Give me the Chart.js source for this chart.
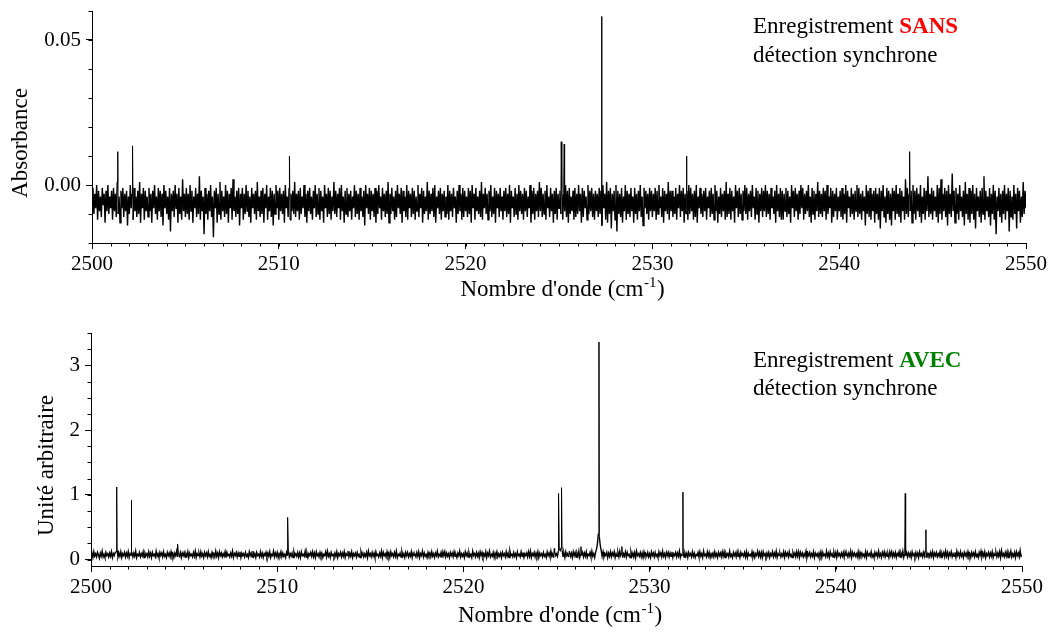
<!DOCTYPE html>
<html><head><meta charset="utf-8">
<script src="https://cdn.jsdelivr.net/npm/chart.js@4"></script>
<style>
html,body{margin:0;padding:0;background:#fff;width:1052px;height:633px;overflow:hidden}
.box{position:absolute;left:0;width:1052px}
#b1{top:0;height:310px}
#b2{top:310px;height:323px}
</style></head><body>
<div class="box" id="b1"><canvas id="c1" width="1052" height="310"></canvas></div>
<div class="box" id="b2"><canvas id="c2" width="1052" height="323"></canvas></div>
<script>
// ---------- DATA ----------
const X_START = 2500;
const X_STEP = 0.05;
const xTicks = [2500, 2510, 2520, 2530, 2540, 2550];

// top panel : absorbance noise in units of 0.001 (one value every 0.05 cm-1, one row per cm-1)
const topNoise = [
-5,-1,-10,-3,-8,0,-12,-2,-9,-4,-11,-1,-7,-3,-13,-2,-9,0,-10,-4,
-8,-2,-12,-1,-9,-3,-11,1,-10,-4,-13,-2,-8,-1,-11,-3,-9,-2,-14,-4,
-10,0,-8,-3,-12,-1,-9,-4,-11,-2,-10,1,-13,-3,-8,-1,-12,-2,-9,-4,
-11,-1,-9,-3,-13,-2,-8,0,-10,-4,-12,-1,-9,-2,-11,-3,-14,0,-8,-2,
-10,-4,-12,-1,-16,-3,-9,-2,-11,0,-8,-3,-13,-1,-10,-4,-12,2,-9,-3,
-11,-1,-10,-3,-12,0,-9,-2,-13,-4,-8,-1,-11,-3,-10,3,-12,-2,-9,-4,
-17,-1,-10,-3,-12,-2,-9,0,-11,-4,-18,-2,-8,-1,-13,-3,-10,1,-12,-2,
-9,-4,-11,0,-10,-2,-13,-3,-8,-1,-12,2,-9,-4,-11,-2,-10,-1,-14,-3,
-8,-1,-12,-3,-10,0,-9,-2,-11,-4,-13,-1,-8,-3,-10,-2,-12,1,-9,-4,
-11,-2,-10,-1,-13,-3,-8,0,-12,-4,-9,-1,-11,-2,-14,-3,-10,0,-8,-2,
-12,-1,-9,-3,-10,-2,-13,0,-8,-4,-11,-1,-12,-3,-9,-2,-10,1,-11,-3,
-9,-2,-12,-1,-10,-4,-8,0,-11,-3,-13,-2,-9,-1,-10,-4,-12,-2,-8,0,
-11,-3,-10,-1,-12,-2,-9,-4,-13,0,-8,-3,-11,-1,-10,-2,-12,-4,-9,1,
-10,-2,-11,-3,-8,-1,-12,0,-9,-4,-13,-2,-10,-1,-11,-3,-9,-2,-12,-4,
-8,0,-11,-2,-10,-3,-12,-1,-9,-4,-11,-2,-14,0,-8,-3,-10,-1,-12,-2,
-9,-3,-11,-1,-13,-2,-10,0,-8,-4,-12,-1,-9,-3,-11,-2,-10,1,-13,-3,
-10,-1,-9,-4,-12,-2,-11,0,-8,-3,-10,-1,-13,-2,-9,-4,-11,0,-12,-2,
-8,-3,-11,-1,-10,-2,-12,-4,-9,0,-11,-3,-8,-1,-13,-2,-10,-4,-9,1,
-12,-2,-10,-3,-9,-1,-11,0,-13,-4,-8,-2,-10,-1,-12,-3,-9,-2,-11,-4,
-10,0,-12,-2,-9,-3,-11,-1,-8,-4,-13,-2,-10,0,-9,-3,-12,-1,-11,-2,
-9,-4,-11,-1,-10,-2,-13,0,-8,-3,-12,-1,-9,-4,-10,-2,-11,1,-12,-3,
-8,-1,-10,-3,-12,-2,-9,0,-11,-4,-10,-1,-13,-2,-8,-3,-11,-1,-9,-4,
-12,-2,-9,-1,-11,-3,-10,0,-13,-2,-8,-4,-11,-1,-10,-3,-12,0,-9,-2,
-10,-3,-12,-1,-9,-2,-11,-4,-8,0,-13,-2,-10,-1,-12,-3,-9,-2,-11,1,
-9,-1,-11,-3,-10,-2,-12,0,-8,-4,-11,-1,-9,-3,-13,-2,-10,-1,-12,-3,
-8,-2,-10,-1,-12,-3,-9,0,-11,-2,-13,-1,-10,-4,-9,-2,-12,-1,-11,-3,
-10,0,-9,-3,-13,-1,-11,-2,-8,-4,-12,0,-10,-2,-9,-1,-11,-3,-12,-2,
-9,-3,-11,-1,-10,-2,-14,0,-8,-3,-12,1,-13,-2,-10,-1,-15,-3,-9,-2,
-12,0,-16,-2,-10,-3,-11,-1,-13,-4,-9,0,-12,-2,-10,-3,-11,-1,-9,-4,
-13,-1,-10,-3,-12,-2,-9,0,-11,-4,-14,-1,-8,-2,-10,-3,-12,-1,-9,-2,
-11,-3,-9,-1,-12,-2,-10,0,-8,-4,-11,-1,-13,-2,-9,-3,-10,1,-12,-2,
-9,-2,-11,-4,-10,-1,-12,-3,-8,0,-11,-2,-9,-1,-13,-3,-10,-2,-12,0,
-10,-1,-9,-3,-12,-2,-11,0,-13,-4,-8,-1,-10,-3,-11,-2,-9,-1,-12,-4,
-8,-2,-11,-1,-10,-3,-12,0,-9,-2,-13,-4,-10,-1,-11,-3,-9,-2,-12,1,
-11,-3,-10,-1,-12,-2,-9,-4,-13,0,-8,-2,-11,-1,-10,-3,-12,-2,-9,0,
-10,-1,-12,-3,-9,-2,-11,0,-8,-4,-12,-1,-10,-2,-13,-3,-9,-1,-11,-2,
-9,0,-11,-2,-10,-3,-12,-1,-8,-4,-10,-2,-13,0,-9,-3,-11,-1,-12,-2,
-12,-3,-9,-1,-11,-2,-10,-4,-13,0,-8,-2,-11,-1,-9,-3,-12,-2,-10,0,
-8,-1,-12,-3,-10,-2,-9,0,-11,-4,-13,-1,-10,-2,-12,-3,-9,1,-11,-2,
-10,-3,-11,-1,-9,-2,-12,0,-10,-4,-8,-1,-13,-2,-11,-3,-9,-1,-12,-4,
-9,-2,-11,-1,-12,-3,-10,0,-13,-2,-8,-4,-11,-1,-10,-3,-12,-2,-9,0,
-11,-1,-10,-3,-12,-2,-9,-4,-14,0,-10,-2,-11,-1,-12,-3,-9,-2,-13,-1,
-10,-3,-12,-1,-15,-2,-9,0,-11,-4,-13,-1,-10,-2,-12,-3,-14,-1,-9,-2,
-12,0,-10,-3,-11,-1,-13,-2,-9,-4,-12,2,-10,-1,-11,-3,-9,-2,-13,0,
-10,-2,-12,-1,-9,-3,-11,0,-13,-4,-10,-1,-12,-2,-9,3,-11,-3,-10,-1,
-12,-2,-9,-4,-11,0,-13,-1,-10,2,-12,-3,-9,-1,-11,-2,-14,0,-10,-3,
-11,4,-9,-2,-13,-1,-10,-3,-12,0,-9,-4,-11,-2,-14,1,-10,-3,-12,-1,
-13,-2,-10,0,-12,-3,-15,-1,-9,-4,-11,-2,-13,-1,-10,3,-12,-2,-9,-4,
-11,-1,-14,-3,-10,0,-12,-2,-17,-4,-9,-1,-11,-3,-13,-2,-10,0,-12,-3,
-9,-1,-16,-2,-11,-4,-12,0,-10,-3,-15,-1,-9,-2,-13,-4,-11,1,-10,-2,
-8
];
const topPeakX = [2501.38, 2502.17, 2510.57, 2525.12, 2525.28, 2527.28, 2531.82, 2543.77];
const topPeakY = [0.0115, 0.0135, 0.0100, 0.0149, 0.0141, 0.0581, 0.0100, 0.0115];
const topYTicks = [0.00, 0.05];

// bottom panel : arbitrary-unit noise in units of 0.01 (one value every 0.05 cm-1, one row per cm-1)
const botNoise = [
6,10,3,12,5,9,4,11,7,2,10,5,13,4,8,3,11,6,9,4,
10,5,12,3,9,6,11,12,14,4,10,5,12,3,9,6,11,4,10,5,
12,3,9,6,11,4,10,5,13,3,8,6,11,4,9,5,12,3,10,6,
9,4,12,5,10,3,11,6,8,4,13,5,9,3,11,6,10,4,12,5,
8,3,11,6,10,4,12,5,9,3,10,6,13,4,8,5,11,3,10,6,
11,4,9,5,12,3,10,6,8,4,11,5,13,3,9,6,10,4,12,5,
9,3,11,6,10,4,12,5,8,3,11,6,9,4,13,5,10,3,12,6,
10,4,9,5,12,3,11,6,8,4,10,5,13,3,9,6,11,4,10,5,
12,3,10,6,9,4,11,5,8,3,12,6,10,4,13,5,9,3,11,6,
8,4,12,5,10,3,9,6,11,4,10,5,12,3,8,6,13,4,10,5,
11,3,9,6,12,4,10,5,8,3,11,6,13,4,9,5,10,3,12,6,
9,5,11,4,10,3,12,6,8,5,13,4,10,3,9,6,11,5,12,4,
10,3,12,6,9,4,11,5,10,3,8,6,12,4,13,5,9,3,11,6,
8,4,10,5,12,3,9,6,11,4,10,5,12,3,9,6,13,4,10,5,
12,3,9,6,10,4,11,5,8,3,12,6,10,4,9,5,11,3,13,6,
9,4,11,5,10,3,12,6,8,4,10,5,13,3,11,6,9,4,12,5,
10,3,12,6,9,4,11,5,13,3,8,6,10,4,12,5,9,3,11,6,
11,4,9,5,12,3,10,6,8,4,11,5,12,3,9,6,13,4,10,5,
8,3,11,6,10,4,12,5,9,3,10,6,13,4,8,5,11,3,12,6,
12,4,10,5,9,3,11,6,10,4,12,5,8,3,10,6,13,4,9,5,
9,3,12,6,10,4,11,5,8,3,13,6,9,4,11,5,10,3,12,6,
11,4,9,5,12,3,10,6,13,4,8,5,11,3,10,6,12,4,9,5,
10,3,11,6,9,4,12,5,10,3,13,6,8,4,11,5,9,3,12,6,
8,4,12,5,11,3,9,6,10,4,12,5,13,3,9,6,11,4,10,5,
12,3,10,6,9,4,11,5,8,3,12,6,10,4,13,5,9,3,11,6,
9,5,13,16,14,18,14,5,10,3,12,6,9,4,11,5,10,3,12,6,
11,4,10,5,13,3,9,6,11,4,10,5,12,3,8,6,11,4,13,5,
9,3,11,16,25,40,35,22,14,5,12,4,9,6,11,3,10,5,12,4,
10,6,12,3,9,5,11,4,13,6,10,3,9,5,12,4,11,6,8,3,
12,5,10,4,11,3,13,6,9,5,11,4,10,3,12,6,9,5,11,4,
9,3,12,6,10,4,11,5,8,3,12,6,10,4,13,5,9,3,11,6,
11,4,10,5,12,3,9,6,11,4,10,5,13,3,8,6,12,4,10,5,
10,3,11,6,9,4,12,5,10,3,8,6,11,4,12,5,9,3,13,6,
8,4,12,5,11,3,9,6,10,4,12,5,9,3,11,6,10,4,12,5,
12,3,10,6,9,4,13,5,8,3,11,6,10,4,12,5,9,3,11,6,
9,5,11,4,12,3,10,6,8,5,12,4,10,3,9,6,13,5,11,4,
11,3,12,6,9,4,10,5,11,3,9,6,12,4,10,5,13,3,9,6,
10,4,9,5,12,3,11,6,10,4,12,5,8,3,11,6,10,4,12,5,
12,3,11,6,10,4,9,5,13,3,10,6,11,4,9,5,12,3,10,6,
9,4,10,5,12,3,11,6,8,4,13,5,10,3,12,6,9,4,11,5,
11,3,12,6,9,4,10,5,11,3,12,6,9,4,10,5,13,3,11,6,
10,5,9,4,12,3,11,6,10,5,8,4,12,3,11,6,9,5,12,4,
8,3,11,6,10,4,13,5,9,3,11,6,12,4,10,5,9,3,12,6,
12,4,10,5,11,3,9,6,12,4,10,5,13,3,9,6,11,4,10,5,
10,3,12,6,9,4,11,5,10,3,12,6,9,4,11,5,13,3,10,6,
9,4,11,5,12,3,10,6,11,4,9,5,12,3,10,6,11,4,13,5,
11,3,10,6,12,4,9,5,11,3,13,6,10,4,12,5,9,3,11,6,
10,4,12,5,9,3,11,6,10,4,12,5,8,3,11,6,13,4,10,5,
12,3,9,6,11,4,10,5,12,3,9,6,11,4,10,5,12,3,14,6,
9,4,11,5,12,3,10,6,13,4,9,5,11,3,12,6,10,4,14,5,
7
];
const botPeakX = [2501.38, 2502.15, 2504.65, 2510.56, 2524.88, 2525.11, 2525.27, 2525.69, 2526.31, 2527.28, 2528.51, 2531.79, 2543.73, 2544.84];
const botPeakY = [1.12, 0.92, 0.24, 0.65, 0.17, 1.02, 1.11, 0.13, 0.20, 3.36, 0.20, 1.04, 1.02, 0.46];
const botYTicks = [0, 1, 2, 3];

// ---------- BUILD ----------
function buildSeries(noise, unit, px, py) {
  const pts = noise.map((v, i) => ({ x: Math.round((X_START + i * X_STEP) * 100) / 100, y: v * unit, pk: false }));
  px.forEach((x, j) => pts.push({ x: x, y: py[j], pk: true }));
  pts.sort((a, b) => a.x - b.x);
  return pts;
}

const FONT = '"Liberation Serif", "Times New Roman", serif';

const deco = {
  id: 'deco',
  afterDraw(chart, args, o) {
    const ctx = chart.ctx, ca = chart.chartArea;
    ctx.save();
    // minor ticks
    ctx.strokeStyle = '#000'; ctx.lineWidth = 1;
    const xs = chart.scales.x, ys = chart.scales.y;
    ctx.beginPath();
    for (let v = xs.min; v <= xs.max + 1e-9; v += o.xMinor) {
      const p = Math.round(xs.getPixelForValue(v)) + 0.5;
      ctx.moveTo(p, ca.bottom); ctx.lineTo(p, ca.bottom + 3.5);
    }
    for (let k = Math.ceil(ys.min / o.yMinor - 1e-9); k * o.yMinor <= ys.max + 1e-9; k++) {
      const p = Math.round(ys.getPixelForValue(k * o.yMinor)) + 0.5;
      ctx.moveTo(ca.left, p); ctx.lineTo(ca.left - 3.5, p);
    }
    ctx.stroke();
    ctx.fillStyle = '#000';
    // x title with superscript
    ctx.textBaseline = 'alphabetic';
    const main = 'Nombre d\'onde (cm', sup = '-1', close = ')';
    ctx.font = '23px ' + FONT;
    const w1 = ctx.measureText(main).width, w3 = ctx.measureText(close).width;
    ctx.font = '15px ' + FONT;
    const w2 = ctx.measureText(sup).width;
    let x0 = (ca.left + ca.right) / 2 + 3 - (w1 + w2 + w3) / 2;
    const by = ca.bottom + o.xTitleDy;
    ctx.font = '23px ' + FONT; ctx.textAlign = 'left';
    ctx.fillText(main, x0, by);
    ctx.font = '15px ' + FONT;
    ctx.fillText(sup, x0 + w1 + 0.5, by - 9);
    ctx.font = '23px ' + FONT;
    ctx.fillText(close, x0 + w1 + w2 + 1, by);
    // y title
    ctx.save();
    ctx.translate(o.yTitleX, (ca.top + ca.bottom) / 2 + o.yTitleDy);
    ctx.rotate(-Math.PI / 2);
    ctx.textAlign = 'center';
    ctx.fillText(o.yTitle, 0, 0);
    ctx.restore();
    // annotation
    ctx.textAlign = 'left';
    ctx.font = '23px ' + FONT;
    const a1 = 'Enregistrement ';
    ctx.fillText(a1, o.annX, o.annY1);
    const wa = ctx.measureText(a1).width;
    ctx.font = 'bold 23px ' + FONT;
    ctx.fillStyle = o.annColor;
    ctx.fillText(o.annWord, o.annX + wa, o.annY1);
    ctx.fillStyle = '#000';
    ctx.font = '23px ' + FONT;
    ctx.fillText('détection synchrone', o.annX, o.annY2);
    ctx.restore();
  }
};

function makeChart(id, data, yMin, yMax, yTicks, fmt, pad, yWidth, xHeight, noiseWidth, decoOpts) {
  return new Chart(document.getElementById(id), {
    type: 'line',
    data: { datasets: [{
      data: data, borderColor: '#000', borderWidth: 1, pointRadius: 0, tension: 0, fill: false,
      segment: { borderWidth: c => (data[c.p0DataIndex].pk || data[c.p1DataIndex].pk) ? 1 : noiseWidth }
    }] },
    options: {
      responsive: false, animation: false, devicePixelRatio: 1,
      parsing: false, normalized: true,
      layout: { padding: pad },
      plugins: { legend: { display: false }, tooltip: { enabled: false }, deco: decoOpts },
      scales: {
        x: {
          type: 'linear', min: 2500, max: 2550,
          afterBuildTicks: s => { s.ticks = xTicks.map(v => ({ value: v })); },
          afterFit: s => { s.height = xHeight; s.paddingLeft = 0; s.paddingRight = 0; },
          grid: { display: true, drawOnChartArea: false, drawTicks: true, tickLength: 6, color: '#000', lineWidth: 1 },
          border: { display: true, color: '#000', width: 1 },
          ticks: { color: '#000', font: { family: FONT, size: 21 }, padding: 3, maxRotation: 0, callback: v => String(v) }
        },
        y: {
          type: 'linear', min: yMin, max: yMax,
          afterBuildTicks: s => { s.ticks = yTicks.map(v => ({ value: v })); },
          afterFit: s => { s.width = yWidth; s.paddingTop = 0; s.paddingBottom = 0; },
          grid: { display: true, drawOnChartArea: false, drawTicks: true, tickLength: 6, color: '#000', lineWidth: 1 },
          border: { display: true, color: '#000', width: 1 },
          ticks: { color: '#000', font: { family: FONT, size: 21 }, padding: 5, callback: fmt }
        }
      }
    },
    plugins: [deco]
  });
}

makeChart('c1', buildSeries(topNoise, 0.001, topPeakX, topPeakY), -0.02, 0.06, topYTicks,
  v => v.toFixed(2), { top: 11, left: 0, right: 26, bottom: 0 }, 92, 67, 1.4,
  { xMinor: 1, yMinor: 0.01, xTitleDy: 53, yTitleX: 27, yTitleDy: 16, yTitle: 'Absorbance',
    annX: 753, annY1: 33, annY2: 62, annWord: 'SANS', annColor: '#ff0000' });

makeChart('c2', buildSeries(botNoise, 0.01, botPeakX, botPeakY), -0.1, 3.5, botYTicks,
  v => String(v), { top: 23, left: 0, right: 30, bottom: 0 }, 91, 67, 1.4,
  { xMinor: 1, yMinor: 0.25, xTitleDy: 56, yTitleX: 53, yTitleDy: 16, yTitle: 'Unité arbitraire',
    annX: 753, annY1: 57, annY2: 85, annWord: 'AVEC', annColor: '#008000' });
</script>
</body></html>
